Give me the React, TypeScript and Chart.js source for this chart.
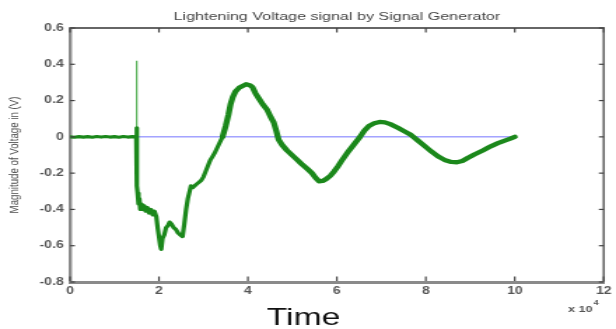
import React, { useEffect, useRef } from "react";
import { Chart, registerables } from "chart.js";

Chart.register(...registerables);

// The reference picture is horizontally stretched; the chart is drawn on a
// narrower canvas and shown widened by this factor.
const STRETCH = 1.4;
const FULL_W = 616;
const FULL_H = 329;
const INNER_W = FULL_W / STRETCH;

const chartTitle = "Lightening Voltage signal by Signal Generator";
const yAxisTitle = "Magnitude of Voltage in (V)";
const xAxisTitle = "Time";
const xExponentBase = "x 10";
const xExponent = "4";

// time in units of 10^4
const timeValues = [
  0, 0.1, 0.2, 0.3, 0.4, 0.5, 0.6, 0.7, 0.8, 0.9, 1.0, 1.1, 1.2, 1.3, 1.4, 1.49,
  1.5, 1.505, 1.52, 1.54, 1.56, 1.58, 1.61, 1.64, 1.67, 1.7, 1.74, 1.78, 1.82,
  1.86, 1.9, 1.94, 1.97, 2.0, 2.03, 2.05, 2.08, 2.12, 2.16, 2.2, 2.24, 2.28,
  2.33, 2.38, 2.43, 2.48, 2.53, 2.57, 2.61, 2.65, 2.69, 2.72, 2.76, 2.8, 2.85,
  2.9, 2.95, 3.0, 3.05, 3.1, 3.15, 3.2, 3.25, 3.31, 3.37, 3.43, 3.5, 3.56, 3.61,
  3.66, 3.72, 3.8, 3.88, 3.96, 4.04, 4.1, 4.17, 4.25, 4.33, 4.43, 4.51, 4.58,
  4.64, 4.69, 4.77, 4.88, 4.99, 5.1, 5.21, 5.33, 5.44, 5.52, 5.6, 5.68, 5.76,
  5.85, 5.94, 6.03, 6.14, 6.26, 6.39, 6.52, 6.62, 6.72, 6.84, 6.96, 7.08, 7.2,
  7.37, 7.52, 7.67, 7.82, 7.97, 8.12, 8.27, 8.42, 8.57, 8.7, 8.82, 8.95, 9.09,
  9.28, 9.46, 9.62, 9.76, 9.9, 10.0,
];

const voltageValues = [
  0, -0.002, 0.001, -0.001, 0.001, -0.002, 0.002, -0.001, 0.002, -0.001, 0.001,
  -0.002, 0.002, -0.001, 0.001, 0,
  0.05, -0.27, -0.31, -0.37, -0.34, -0.4, -0.37, -0.4, -0.38, -0.41, -0.39,
  -0.42, -0.4, -0.43, -0.41, -0.44, -0.5, -0.55, -0.6, -0.62, -0.56, -0.54,
  -0.5, -0.49, -0.47, -0.48, -0.5, -0.51, -0.53, -0.54, -0.55, -0.48, -0.4,
  -0.34, -0.3, -0.27, -0.28, -0.27, -0.26, -0.25, -0.24, -0.22, -0.19, -0.16,
  -0.13, -0.11, -0.09, -0.06, -0.03, 0.0, 0.06, 0.12, 0.18, 0.22, 0.25, 0.27,
  0.28, 0.29, 0.285, 0.275, 0.24, 0.21, 0.18, 0.15, 0.11, 0.08, 0.03, -0.015,
  -0.045, -0.075, -0.1, -0.125, -0.15, -0.175, -0.2, -0.225, -0.245, -0.243,
  -0.232, -0.215, -0.19, -0.16, -0.12, -0.08, -0.04, 0.0, 0.035, 0.06, 0.075,
  0.082, 0.08, 0.07, 0.05, 0.03, 0.01, -0.02, -0.05, -0.08, -0.107, -0.127,
  -0.138, -0.14, -0.133, -0.115, -0.097, -0.075, -0.052, -0.035, -0.022, -0.01,
  0.0,
];

const spikeTime = [1.5, 1.5];
const spikeVoltage = [0.0, 0.42];

const baselineTime = [1.5, 10];
const baselineVoltage = [0, 0];

const xMin = 0;
const xMax = 12;
const xStep = 2;
const yMin = -0.8;
const yMax = 0.6;
const yStep = 0.2;

const toPoints = (xs: number[], ys: number[]) =>
  xs.map((x, i) => ({ x, y: ys[i] }));

const FONT = '"Liberation Sans", Arial, sans-serif';

const framePlugin = {
  id: "matlabFrame",
  afterDraw(chart: any) {
    const ctx: CanvasRenderingContext2D = chart.ctx;
    const area = chart.chartArea;
    const L = area.left;
    const R = area.right;
    const T = area.top;
    const B = area.bottom;
    const xs = chart.scales.x;
    const ys = chart.scales.y;
    ctx.save();
    // top & right thin border
    ctx.fillStyle = "#666666";
    ctx.fillRect(L, T - 1, R - L, 2);
    ctx.fillRect(R - 0.8, T - 1, 1.6, B - T + 1);
    // inner tick marks
    ctx.fillStyle = "#444444";
    for (const t of xs.ticks) {
      const px = xs.getPixelForValue(t.value);
      ctx.fillRect(px - 0.6, B - 5.5, 1.2, 4.5);
      ctx.fillRect(px - 0.6, T, 1.2, 4.5);
    }
    for (const t of ys.ticks) {
      const py = ys.getPixelForValue(t.value);
      ctx.fillRect(L, py - 0.6, 3.5, 1.2);
      ctx.fillRect(R - 3.5, py - 0.6, 3.5, 1.2);
    }
    // exponent label
    ctx.textBaseline = "middle";
    ctx.textAlign = "left";
    ctx.fillStyle = "#555555";
    ctx.font = `bold 9px ${FONT}`;
    const ex = R - 25.5;
    ctx.fillText(xExponentBase, ex, 310);
    const w = ctx.measureText(xExponentBase).width;
    ctx.font = `bold 6.5px ${FONT}`;
    ctx.fillText(xExponent, ex + w + 0.8, 303.5);
    // axis name
    ctx.fillStyle = "#111111";
    ctx.font = `24px ${FONT}`;
    ctx.textAlign = "center";
    ctx.fillText(xAxisTitle, L + 166.8, 318.5);
    ctx.restore();
  },
};

export default function App() {
  const canvasRef = useRef<HTMLCanvasElement | null>(null);

  useEffect(() => {
    if (!canvasRef.current) return;
    const chart = new Chart(canvasRef.current, {
      type: "line",
      data: {
        datasets: [
          {
            label: "Signal",
            data: toPoints(timeValues, voltageValues),
            borderColor: "#1b881b",
            borderWidth: 3.2,
            borderJoinStyle: "round",
            borderCapStyle: "round",
            pointRadius: 0,
            tension: 0,
            fill: false,
            segment: {
              borderWidth: (c: any) => (c.p0.parsed.x >= 3.43 ? 4.3 : 3.2),
            },
          } as any,
          {
            label: "Spike",
            data: toPoints(spikeTime, spikeVoltage),
            borderColor: "rgba(30,150,30,0.75)",
            borderWidth: 1.2,
            pointRadius: 0,
            fill: false,
          },
          {
            label: "Zero",
            data: toPoints(baselineTime, baselineVoltage),
            borderColor: "#7474ff",
            borderWidth: 1,
            pointRadius: 0,
            fill: false,
          },
        ],
      },
      options: {
        animation: false,
        responsive: true,
        maintainAspectRatio: false,
        events: [],
        layout: { padding: { left: 0, right: 6.4, top: 0, bottom: 0 } },
        plugins: {
          legend: { display: false },
          tooltip: { enabled: false },
          title: {
            display: true,
            text: chartTitle,
            color: "#444444",
            fullSize: false,
            font: { family: FONT, size: 11.5, weight: "normal", lineHeight: 1.2 },
            padding: { top: 10.1, bottom: 4.1 },
          },
        },
        scales: {
          x: {
            type: "linear",
            min: xMin,
            max: xMax,
            grid: { display: false, drawTicks: false },
            border: { display: true, color: "#8a8a8a", width: 3 },
            ticks: {
              stepSize: xStep,
              autoSkip: false,
              maxRotation: 0,
              padding: 3.2,
              color: "#555555",
              font: { family: FONT, size: 10, weight: "bold", lineHeight: 1.2 },
              callback: (v: any) => String(Math.round(Number(v))),
            },
            afterFit: (s: any) => {
              s.height = 47;
            },
          },
          y: {
            type: "linear",
            min: yMin,
            max: yMax,
            grid: { display: false, drawTicks: false },
            border: { display: true, color: "#8a8a8a", width: 2.4 },
            title: {
              display: true,
              text: yAxisTitle,
              color: "#4e4e4e",
              font: { family: FONT, size: 9.7, lineHeight: 1.2 },
              padding: { top: 4.9, bottom: 0 },
            },
            ticks: {
              stepSize: yStep,
              padding: 4.5,
              color: "#555555",
              font: { family: FONT, size: 10, weight: "bold", lineHeight: 1.2 },
              callback: (v: any) => String(Math.round(Number(v) * 10) / 10),
            },
            afterFit: (s: any) => {
              s.width = 50;
            },
          },
        },
      },
      plugins: [framePlugin],
    });
    return () => chart.destroy();
  }, []);

  return (
    <div
      style={{
        position: "fixed",
        left: 0,
        top: 0,
        width: FULL_W,
        height: FULL_H,
        overflow: "hidden",
        background: "#ffffff",
      }}
    >
      <div
        style={{
          width: INNER_W,
          height: FULL_H,
          transform: `scaleX(${STRETCH})`,
          transformOrigin: "0 0",
        }}
      >
        <canvas ref={canvasRef} />
      </div>
    </div>
  );
}
